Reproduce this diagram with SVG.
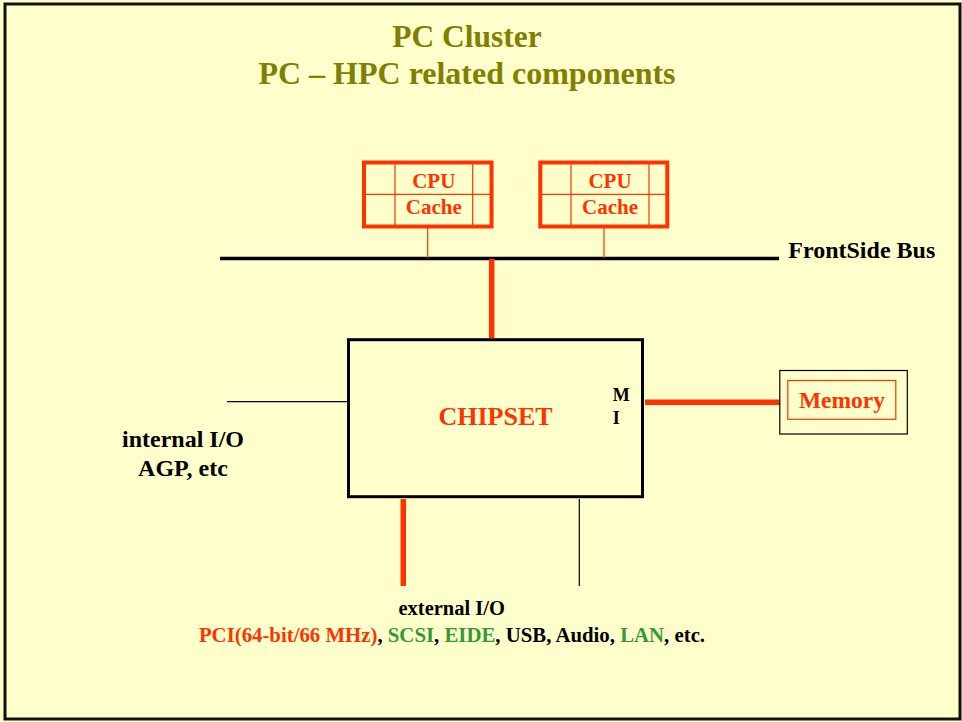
<svg xmlns="http://www.w3.org/2000/svg" width="962" height="722" viewBox="0 0 962 722">
<style>
text{font-family:"Liberation Serif","Times New Roman",serif;font-weight:bold}
.t{fill:#808000}
.o{fill:#FF3300}
.k{fill:#000}
.g{fill:#339933}
.box{fill:none;stroke:#FF3300;stroke-width:4}
.thin{stroke:#FF3300;stroke-width:1.2;fill:none}
</style>
<rect x="0" y="0" width="962" height="722" fill="#FFFFCC"/>
<rect x="5" y="4" width="955" height="715" fill="#FFFFCC" stroke="#111" stroke-width="3"/>
<g id="title">
<text class="t" x="467" y="47" text-anchor="middle" font-size="31.5">PC Cluster</text>
<text class="t" x="467" y="84" text-anchor="middle" font-size="32">PC – HPC related components</text>
</g>
<g id="connectors">
<line x1="220" y1="258.5" x2="779" y2="258.5" stroke="#000" stroke-width="3.5"/>
<line x1="427.7" y1="228" x2="427.7" y2="258" class="thin"/>
<line x1="604" y1="228" x2="604" y2="258" class="thin"/>
<line x1="491.7" y1="259" x2="491.7" y2="338" stroke="#FF3300" stroke-width="5.5"/>
<line x1="645" y1="402.3" x2="780" y2="402.3" stroke="#FF3300" stroke-width="5.5"/>
<line x1="227" y1="401.7" x2="347" y2="401.7" stroke="#000" stroke-width="1.2"/>
<line x1="403.3" y1="499" x2="403.3" y2="586" stroke="#FF3300" stroke-width="5.5"/>
<line x1="579.3" y1="499" x2="579.3" y2="586" stroke="#000" stroke-width="1.2"/>
</g>
<g id="cpu1">
<rect x="364" y="162.5" width="127.5" height="64" class="box"/>
<line x1="395" y1="162.5" x2="395" y2="226.5" class="thin"/>
<line x1="472.7" y1="162.5" x2="472.7" y2="226.5" class="thin"/>
<line x1="364" y1="194.3" x2="491.5" y2="194.3" class="thin"/>
<text class="o" x="433.8" y="188.3" text-anchor="middle" font-size="21">CPU</text>
<text class="o" x="433.8" y="214" text-anchor="middle" font-size="21">Cache</text>
</g>
<g id="cpu2">
<rect x="540.3" y="162.5" width="127" height="64" class="box"/>
<line x1="571" y1="162.5" x2="571" y2="226.5" class="thin"/>
<line x1="649" y1="162.5" x2="649" y2="226.5" class="thin"/>
<line x1="540.3" y1="194.3" x2="667.3" y2="194.3" class="thin"/>
<text class="o" x="610" y="188.3" text-anchor="middle" font-size="21">CPU</text>
<text class="o" x="610" y="214" text-anchor="middle" font-size="21">Cache</text>
</g>
<g id="bus">
<text class="k" x="788.3" y="257.7" font-size="24">FrontSide Bus</text>
</g>
<g id="chipset">
<rect x="348.5" y="339.7" width="294" height="157" fill="none" stroke="#000" stroke-width="3"/>
<text class="o" x="495.5" y="425" text-anchor="middle" font-size="26">CHIPSET</text>
<text class="k" x="612.7" y="400.7" font-size="18">M</text>
<text class="k" x="612.7" y="424.3" font-size="18">I</text>
</g>
<g id="memory">
<rect x="779.8" y="370.5" width="127.5" height="63.5" fill="none" stroke="#000" stroke-width="1.2"/>
<rect x="787.8" y="380.5" width="108" height="38.8" fill="none" stroke="#FF3300" stroke-width="1.2"/>
<text class="o" x="842" y="408.3" text-anchor="middle" font-size="23.5">Memory</text>
</g>
<g id="internal">
<text class="k" x="183" y="446.7" text-anchor="middle" font-size="24">internal I/O</text>
<text class="k" x="183" y="475.7" text-anchor="middle" font-size="24">AGP, etc</text>
</g>
<g id="external">
<text class="k" x="451.7" y="614.5" text-anchor="middle" font-size="20.5">external I/O</text>
<text x="452" y="642" text-anchor="middle" font-size="20.8"><tspan class="o">PCI(64-bit/66 MHz)</tspan><tspan class="k">, </tspan><tspan class="g">SCSI</tspan><tspan class="k">, </tspan><tspan class="g">EIDE</tspan><tspan class="k">, USB, Audio, </tspan><tspan class="g">LAN</tspan><tspan class="k">, etc.</tspan></text>
</g>
</svg>
